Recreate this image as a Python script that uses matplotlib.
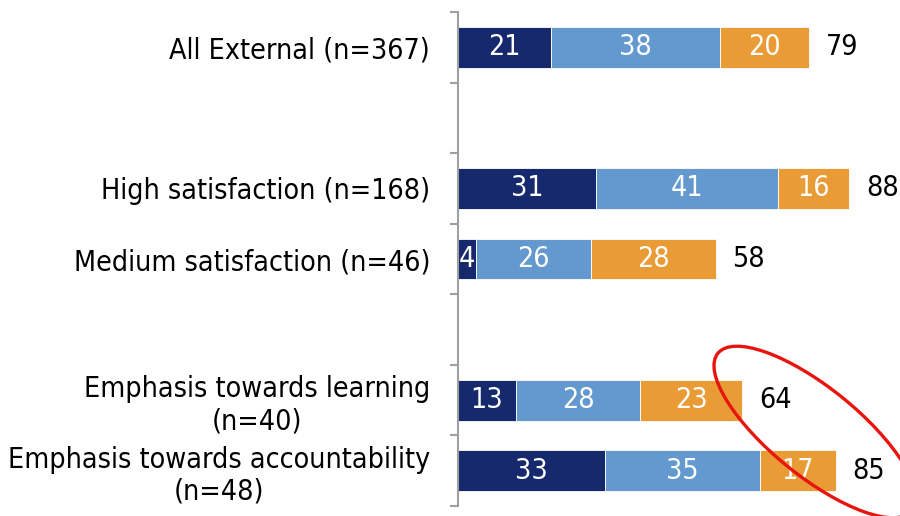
import matplotlib
matplotlib.use("Agg")
import matplotlib.pyplot as plt
from matplotlib.patches import Ellipse
from matplotlib.transforms import IdentityTransform

categories = ["All External (n=367)", "", "High satisfaction (n=168)",
              "Medium satisfaction (n=46)", "",
              "Emphasis towards learning\n(n=40)",
              "Emphasis towards accountability\n(n=48)"]
series1 = [21, None, 31, 4, None, 13, 33]
series2 = [38, None, 41, 26, None, 28, 35]
series3 = [20, None, 16, 28, None, 23, 17]
totals = [79, None, 88, 58, None, 64, 85]

colors = ["#15296C", "#6399CE", "#E99B36"]

plt.rcParams["font.family"] = "DejaVu Sans"
plt.rcParams["font.stretch"] = "condensed"

W, H = 900, 516
fig = plt.figure(figsize=(W / 100, H / 100), dpi=100)
ax = fig.add_axes([458 / W, (H - 506) / H, (W - 458) / W, 494 / H])

FS = 20.5
bh = 0.58
for i, cat in enumerate(categories):
    if series1[i] is None:
        continue
    left = 0
    for vals, c in zip([series1, series2, series3], colors):
        v = vals[i]
        ax.barh(i, v, left=left, height=bh, color=c, edgecolor="white", linewidth=0.6)
        ax.text(left + v / 2, i, str(v), ha="center", va="center",
                color="white", fontsize=FS)
        left += v
    ax.text(left + 3.8, i, str(totals[i]), ha="left", va="center",
            color="black", fontsize=FS)

ax.set_ylim(6.5, -0.5)
ax.set_xlim(0, 99.5)
ax.set_yticks(range(len(categories)))
ax.set_yticklabels(categories, fontsize=FS, multialignment="center", linespacing=1.18)
ax.tick_params(axis="y", which="major", length=0, pad=20)
ax.set_yticks([i - 0.5 for i in range(len(categories) + 1)], minor=True)
ax.tick_params(axis="y", which="minor", length=6, width=1.5, color="#A0A0A0")
ax.set_xticks([])
for s in ["top", "right", "bottom"]:
    ax.spines[s].set_visible(False)
ax.spines["left"].set_color("#A0A0A0")
ax.spines["left"].set_linewidth(1.5)

# red highlight ellipse (pixel coords, y measured from bottom)
ell = Ellipse((815, H - 432), width=250, height=88, angle=-39,
              transform=IdentityTransform(), fill=False,
              edgecolor="#E8140E", linewidth=2.4, clip_on=False)
fig.add_artist(ell)

fig.savefig("out.png", dpi=100)
